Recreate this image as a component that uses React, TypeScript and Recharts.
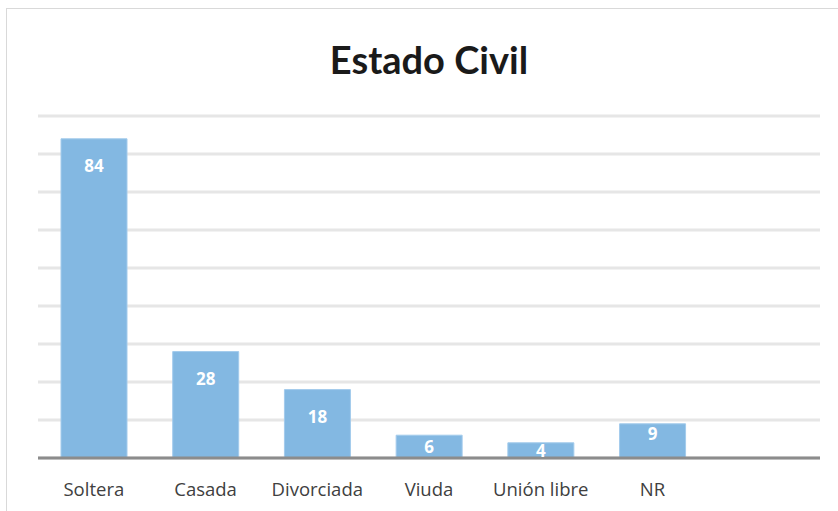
import { BarChart, Bar, XAxis, YAxis, CartesianGrid, LabelList } from "recharts";

const categories = ["Soltera", "Casada", "Divorciada", "Viuda", "Unión libre", "NR", ""];
const counts = [84, 28, 18, 6, 4, 9, null];
const yTicks = [0, 10, 20, 30, 40, 50, 60, 70, 80, 90];

const data = categories.map((name, i) => ({ name, count: counts[i] }));

const TITLE_FONT = "Lato, 'Open Sans', sans-serif";
const FONT = "'Open Sans', Lato, sans-serif";

function ValueLabel(props: any) {
  const { x, y, width, height, value } = props;
  if (value == null) return null;
  // inside end for tall bars, roughly centred for short ones
  const off = height > 60 ? 27 : height > 30 ? 10 : height / 2;
  return (
    <text
      x={x + width / 2}
      y={y + off}
      textAnchor="middle"
      dominantBaseline="central"
      fill="#ffffff"
      fontFamily={FONT}
      fontWeight={700}
      fontSize={17}
    >
      {value}
    </text>
  );
}

function CategoryTick(props: any) {
  const { x, y, payload } = props;
  return (
    <text
      x={x}
      y={y + 22}
      textAnchor="middle"
      dominantBaseline="central"
      fill="#404040"
      fontFamily={FONT}
      fontSize={18.5}
    >
      {payload.value}
    </text>
  );
}

export default function App() {
  return (
    <div style={{ position: "absolute", left: 0, top: 0, width: 838, height: 511, background: "#fff", overflow: "hidden" }}>
      <div
        style={{
          position: "absolute",
          left: 6,
          top: 8,
          width: 900,
          height: 600,
          borderLeft: "1px solid #d9d9d9",
          borderTop: "1px solid #d9d9d9",
        }}
      />
      <div
        style={{
          position: "absolute",
          left: 0,
          width: 858,
          top: 36,
          textAlign: "center",
          fontFamily: TITLE_FONT,
          fontWeight: 700,
          fontSize: 38,
          color: "#1a1a1a",
        }}
      >
        Estado Civil
      </div>
      <div style={{ position: "absolute", left: 0, top: 0 }}>
        <BarChart
          width={838}
          height={511}
          data={data}
          margin={{ top: 116, right: 18, bottom: 13, left: 38 }}
        >
          <CartesianGrid vertical={false} stroke="#e6e6e6" strokeWidth={3} />
          <YAxis hide domain={[0, 90]} ticks={yTicks} />
          <XAxis
            dataKey="name"
            height={40}
            interval={0}
            tickLine={false}
            axisLine={{ stroke: "#8c8c8c", strokeWidth: 3 }}
            tick={<CategoryTick />}
          />
          <Bar dataKey="count" fill="#83b8e2" stroke="#a3cbec" strokeWidth={1} barSize={66} isAnimationActive={false}>
            <LabelList dataKey="count" content={<ValueLabel />} />
          </Bar>
        </BarChart>
      </div>
    </div>
  );
}
